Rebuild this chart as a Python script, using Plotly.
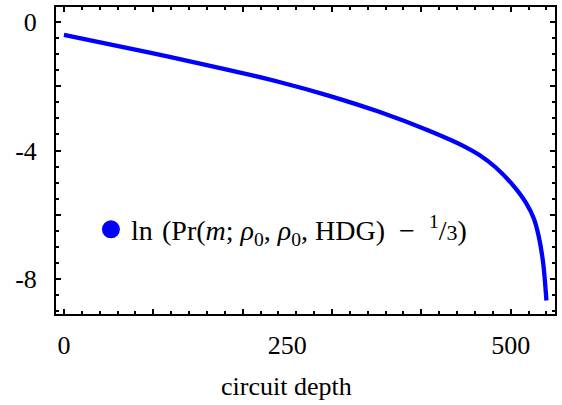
import plotly.graph_objects as go

# data
depth = [0, 96, 185, 241, 297, 352, 408, 450, 465, 483, 502, 517, 526, 531, 536, 540]
log_excess = [-0.405, -0.96, -1.50, -1.87, -2.30, -2.79, -3.38, -3.90, -4.14,
              -4.52, -5.06, -5.62, -6.12, -6.62, -7.42, -8.66]

x_tick_vals = [0, 250, 500]
x_tick_text = ["0", "250", "500"]
y_tick_vals = [0, -2, -4, -6, -8]
y_tick_text = ["0", "", "-4", "", "-8"]

legend_label = ("ln\u2004(Pr(<i>m</i>; <i>\u03c1</i><sub>0</sub>, <i>\u03c1</i><sub>0</sub>, HDG)\u2002\u2212\u2002"
                "<sup>1</sup>/<span style='font-size:22px'>3</span>)")

FONT = "Liberation Serif"
XR = [-8.9, 549.6]
YR = [-9.08, 0.46]

fig = go.Figure()
fig.add_trace(go.Scatter(x=depth, y=log_excess, mode="lines",
                         line=dict(color="#0000ff", width=4.3, shape="spline", smoothing=1),
                         showlegend=False, hoverinfo="skip"))
fig.add_trace(go.Scatter(x=[None], y=[None], mode="markers", xaxis="x2",
                         marker=dict(color="#0000ff", size=20,
                                     line=dict(color="#0000ff", width=2)),
                         name=legend_label, showlegend=True))

fig.update_layout(
    width=562, height=405,
    margin=dict(l=56, r=5, t=5, b=91),
    paper_bgcolor="white", plot_bgcolor="white",
    font=dict(family=FONT, size=26, color="black"),
    showlegend=True,
    legend=dict(x=0.07, y=0.275, xanchor="left", yanchor="middle",
                bgcolor="rgba(0,0,0,0)", font=dict(size=28, family=FONT),
                itemsizing="trace"),
    xaxis=dict(range=XR, tickvals=x_tick_vals, ticktext=x_tick_text, ticks="",
               showline=True, linewidth=2, linecolor="black", mirror=True,
               showgrid=False, zeroline=False, ticklabelstandoff=7,
               tickfont=dict(size=26, family=FONT)),
    xaxis2=dict(range=XR, overlaying="x", anchor="y", side="bottom",
                showticklabels=False, ticks="inside", tick0=0, dtick=100,
                ticklen=5, tickwidth=2, tickcolor="black", mirror="ticks",
                showline=False, showgrid=False, zeroline=False,
                minor=dict(ticks="inside", dtick=20, tick0=0, ticklen=3,
                           tickwidth=2, tickcolor="black", showgrid=False)),
    yaxis=dict(range=YR, tickvals=y_tick_vals, ticktext=y_tick_text,
               ticks="inside", ticklen=5, tickwidth=2, tickcolor="black",
               showline=True, linewidth=2, linecolor="black", mirror="ticks",
               showgrid=False, zeroline=False, ticklabelstandoff=12,
               tickfont=dict(size=26, family=FONT),
               minor=dict(ticks="inside", dtick=0.5, tick0=0, ticklen=3,
                          tickwidth=2, tickcolor="black", showgrid=False)),
    annotations=[dict(text="circuit depth", xref="paper", yref="paper",
                      x=0.462, y=-0.237, xanchor="center", yanchor="middle",
                      showarrow=False, font=dict(size=26, family=FONT))],
)

fig.write_html("out.html", config={"displayModeBar": False},
               post_script="document.body.style.margin='0';")
